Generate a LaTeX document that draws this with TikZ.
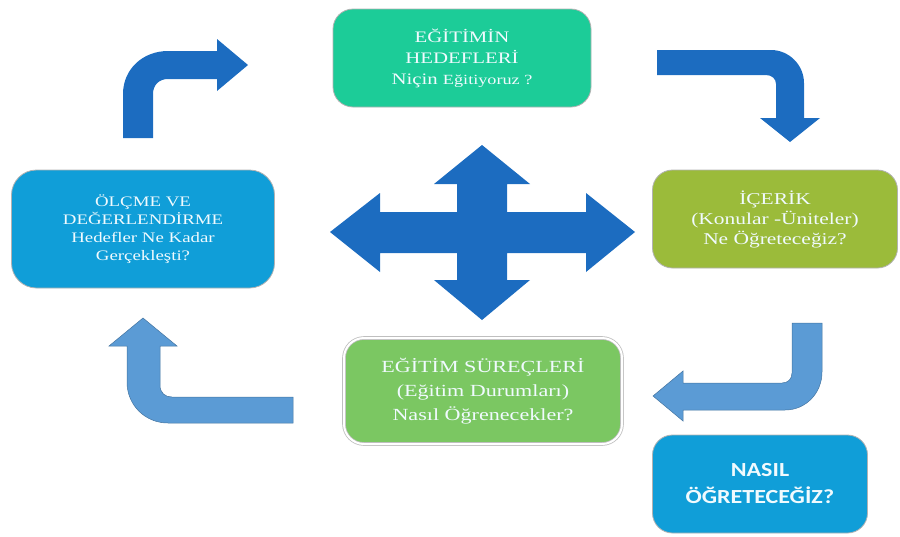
\documentclass[tikz,border=0pt]{standalone}
\usepackage{fontspec}
\setmainfont{Liberation Serif}[FakeStretch=1.3]
\newfontfamily\calfont{Carlito}[FakeStretch=1.2]
\definecolor{hedefyesil}{RGB}{28,204,152}
\definecolor{icerikyesil}{RGB}{155,187,58}
\definecolor{surecyesil}{RGB}{123,199,98}
\definecolor{olcmemavi}{RGB}{16,158,216}
\definecolor{koyumavi}{RGB}{28,108,192}
\definecolor{acikmavi}{RGB}{91,155,213}
\begin{document}
\begin{tikzpicture}[x=1pt, y=-1pt,
  kutu/.style={rectangle, rounded corners=20pt, draw=black!30, line width=0.8pt, text=white!94!cyan, align=center, inner sep=0pt},
  koyuok/.style={fill=koyumavi},
  acikok/.style={fill=acikmavi, draw=acikmavi!75!black, line width=0.5pt}]
\useasboundingbox (0,0) rectangle (900,536);
\node[kutu, fill=hedefyesil, minimum width=258pt, minimum height=98pt, font=\fontsize{16}{21}\selectfont] (hedef) at (462,58) {EĞİTİMİN\\HEDEFLERİ\\Niçin {\fontsize{14}{21}\selectfont Eğitiyoruz ?}};
\node[kutu, fill=icerikyesil, minimum width=245pt, minimum height=98pt, font=\fontsize{16.5}{20}\selectfont] (icerik) at (775,219) {İÇERİK\\(Konular -Üniteler)\\Ne Öğreteceğiz?};
\node[kutu, fill=olcmemavi, rounded corners=25pt, minimum width=263pt, minimum height=118pt, font=\fontsize{14.5}{18}\selectfont] (olcme) at (143,229) {ÖLÇME VE\\DEĞERLENDİRME\\Hedefler Ne Kadar\\Gerçekleşti?};
\node[kutu, fill=surecyesil, draw=black!25, double=white, double distance=2pt, minimum width=278pt, minimum height=106pt, font=\fontsize{17}{24}\selectfont] (surec) at (483,391) {EĞİTİM SÜREÇLERİ\\(Eğitim Durumları)\\Nasıl Öğrenecekler?};
\node[kutu, fill=olcmemavi, minimum width=215pt, minimum height=98pt, font=\calfont\bfseries\fontsize{20}{27}\selectfont] (nasil) at (760,484) {NASIL\\ÖĞRETECEĞİZ?};
\fill[koyuok] (123,138) -- (123,94) .. controls (123,69) and (143,51) .. (168,51) -- (217,51) -- (217,39) -- (248,65) -- (217,91) -- (217,79) -- (168,79) .. controls (159,79) and (153,85) .. (153,94) -- (153,138) -- cycle;
\fill[koyuok] (657,50) -- (771,50) .. controls (789,50) and (804,65) .. (804,83) -- (804,118) -- (820,118) -- (790,142) -- (760,118) -- (776,118) -- (776,84) .. controls (776,79) and (772,75) .. (766,75) -- (657,75) -- cycle;
\filldraw[acikok] (792,323) -- (822,323) -- (822,372) .. controls (822,393) and (806,410) .. (785,410) -- (683,410) -- (683,421) -- (653,396) -- (683,371) -- (683,383) -- (782,383) .. controls (788,383) and (792,379) .. (792,373) -- cycle;
\filldraw[acikok] (293,397) -- (293,423) -- (168,423) .. controls (145,423) and (127,405) .. (127,382) -- (127,346) -- (109,346) -- (143,318) -- (177,346) -- (160,346) -- (160,385) .. controls (160,393) and (165,397) .. (172,397) -- cycle;
\fill[koyuok] (482,145) -- (530,184) -- (507,184) -- (507,212) -- (586,212) -- (586,193) -- (635,232) -- (586,272) -- (586,253) -- (507,253) -- (507,280) -- (530,280) -- (482,320) -- (434,280) -- (457,280) -- (457,253) -- (380,253) -- (380,272) -- (330,232) -- (380,193) -- (380,212) -- (457,212) -- (457,184) -- (434,184) -- cycle;
\end{tikzpicture}
\end{document}
